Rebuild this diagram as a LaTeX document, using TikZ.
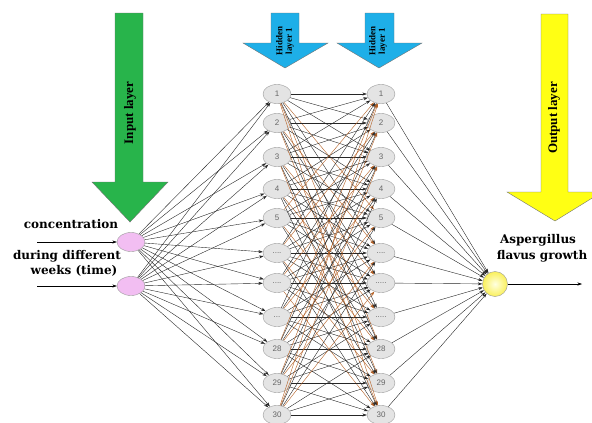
\documentclass[tikz,border=0pt]{standalone}
\usepackage{fontspec}
\setmainfont{Liberation Serif}
\setsansfont{Liberation Sans}
\newfontfamily\lblfont{DejaVu Serif}
\usetikzlibrary{arrows.meta,shapes.geometric}
\definecolor{brn}{RGB}{180,95,35}
\definecolor{arrgreen}{RGB}{40,180,75}
\definecolor{arrblue}{RGB}{30,175,232}
\definecolor{arryellow}{RGB}{255,255,20}
\definecolor{nodegray}{RGB}{228,228,228}
\definecolor{inpink}{RGB}{242,190,242}
\begin{document}
\begin{tikzpicture}[x=1pt,y=-1pt,
  conn/.style={-{Stealth[length=4.5pt,width=3pt]}, line width=0.4pt},
  hid/.style={ellipse, draw=gray!80, fill=nodegray, minimum width=28pt, minimum height=19pt, inner sep=0pt,
    font=\sffamily\fontsize{8}{8}\selectfont, text=black!60},
  inp/.style={ellipse, draw=gray!80, fill=inpink, minimum width=28pt, minimum height=19pt, inner sep=0pt},
  outn/.style={circle, draw=gray!80, inner color={rgb,255:red,255;green,255;blue,225}, outer color={rgb,255:red,250;green,240;blue,90}, minimum size=25pt, inner sep=0pt},
  blockarrow/.style={draw=black!55, line width=0.4pt},
  lbl/.style={font=\lblfont\bfseries\fontsize{12}{13}\selectfont, inner sep=0pt},
  arrtxt/.style={rotate=90, font=\bfseries\fontsize{13}{13}\selectfont, inner sep=0pt},
  hidtxt/.style={rotate=90, align=center, font=\bfseries\fontsize{9}{9.5}\selectfont, inner sep=0pt}]
\useasboundingbox (0,0) rectangle (592,423);

% block arrows
\filldraw[blockarrow, fill=arrgreen] (115,13) -- (143,13) -- (143,182) -- (168,182) -- (130,222) -- (92,182) -- (115,182) -- cycle;
\filldraw[blockarrow, fill=arrblue] (271,13) -- (299,13) -- (299,43) -- (328,43) -- (285,68) -- (243,43) -- (271,43) -- cycle;
\filldraw[blockarrow, fill=arrblue] (365,13) -- (394,13) -- (394,43) -- (422,43) -- (379,68) -- (337,43) -- (365,43) -- cycle;
\filldraw[blockarrow, fill=arryellow] (541,14) -- (568,14) -- (568,192) -- (602,192) -- (555,221) -- (507,192) -- (541,192) -- cycle;

\node[arrtxt] (tin) at (130,113) {Input layer};
\node[arrtxt] (tout) at (554,118) {Output layer};
\node[hidtxt] (th1) at (285,41) {Hidden\\layer 1};
\node[hidtxt] (th2) at (378,41) {Hidden\\layer 1};

% hidden nodes
\foreach \y/\l [count=\i] in {94/1,123/2,157/3,189/4,218/5,253/{....},283/{....},317/{...},349/28,383/29,415/30}
  \node[hid] (h\i) at (277,\y) {\l};
\foreach \y/\l [count=\i] in {94/1,123/2,157/3,189/4,218/5,253/{....},283/{.....},317/{.....},349/28,383/29,415/30}
  \node[hid] (g\i) at (381,\y) {\l};

% input nodes
\node[inp] (in1) at (131,242) {};
\node[inp] (in2) at (131,286) {};
\coordinate (a1) at (37,242);
\coordinate (a2) at (37,286);
\draw[conn] (a1) -- (in1);
\draw[conn] (a2) -- (in2);

\node[lbl] (t1) at (71,224) {concentration};
\node[lbl] (t2) at (67,256) {during different};
\node[lbl] (t3) at (74,271) {weeks (time)};

% output
\node[outn] (out) at (495,284) {};
\coordinate (oe) at (582,284);
\draw[conn] (out) -- (oe);
\node[lbl] (t4) at (538,240) {Aspergillus};
\node[lbl] (t5) at (542,256) {flavus growth};

% input -> hidden
\foreach \i in {1,2}{\foreach \j in {1,...,11}{
  \draw[conn, draw=black!85] (in\i) -- (h\j);}}

% hidden -> hidden (partial)
\foreach \i in {1,...,11}{\foreach \j in {1,...,11}{
  \pgfmathtruncatemacro\keep{(\i==\j || mod(\i*5+\j*7,3)!=0) ? 1 : 0}
  \ifnum\keep=1
    \pgfmathsetmacro\cc{(abs(\i-\j)>=3 && mod(\i+\j,2)==0) ? "brn" : "black!85"}
    \draw[conn, draw=\cc] (h\i) -- (g\j);
  \fi}}

% hidden -> output
\foreach \j in {1,...,11}{
  \draw[conn, draw=black!85] (g\j) -- (out);}
\end{tikzpicture}
\end{document}
